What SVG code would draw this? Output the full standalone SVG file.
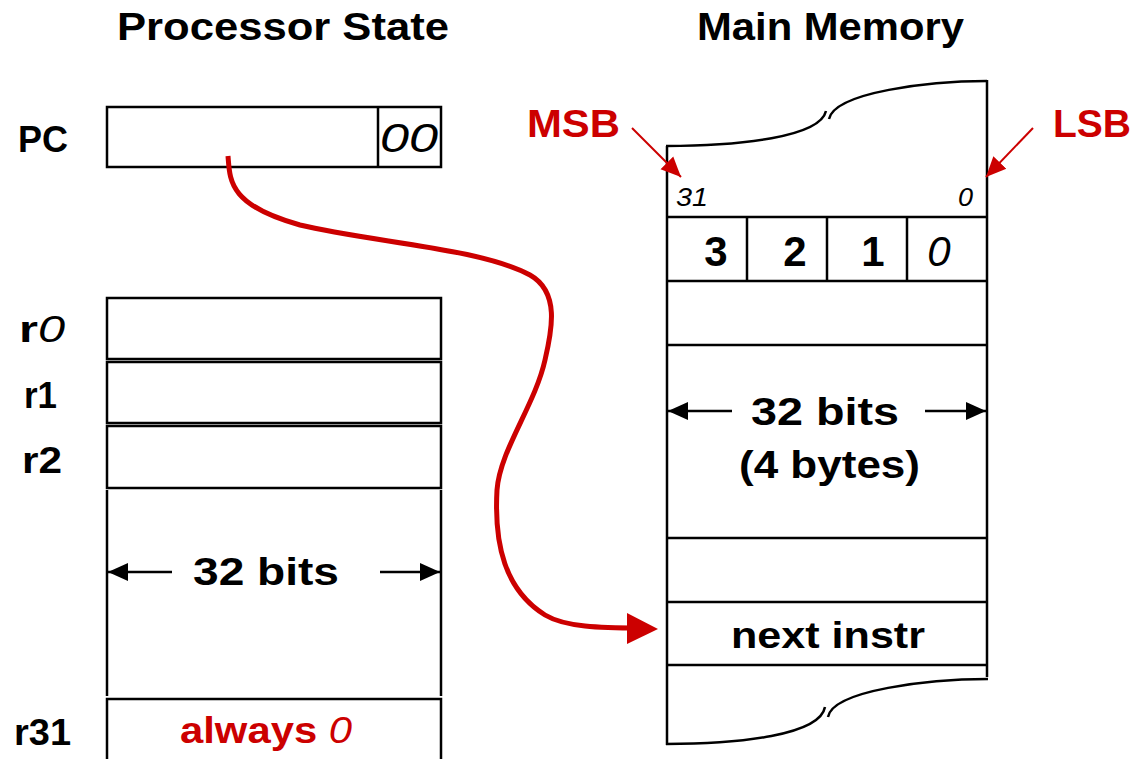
<svg xmlns="http://www.w3.org/2000/svg" width="1134" height="759" viewBox="0 0 1134 759">
<style>
.box{fill:#fff;stroke:#000;stroke-width:2.5}
.ln{fill:none;stroke:#000;stroke-width:2.5}
.t{font-family:"Liberation Sans","DejaVu Sans",sans-serif;font-weight:bold;fill:#000}
.title{font-size:38px}
.lbl{font-size:36px}
.mid{font-size:38px}
.red{fill:#cc0000}
.it{font-style:italic;font-weight:normal}
</style>
<defs>
<marker id="blkA" viewBox="0 0 20 20" refX="20" refY="10" markerWidth="20" markerHeight="20" orient="auto" markerUnits="userSpaceOnUse">
<path d="M0,1 L20,10 L0,19 z" fill="#000"/>
</marker>
<marker id="redA" viewBox="0 0 20 20" refX="20" refY="10" markerWidth="20" markerHeight="20" orient="auto" markerUnits="userSpaceOnUse">
<path d="M0,1 L20,10 L0,19 z" fill="#cc0000"/>
</marker>
</defs>
<rect width="1134" height="759" fill="#fff"/>

<g id="titles">
<text class="t title" x="117" y="40" textLength="332" lengthAdjust="spacingAndGlyphs">Processor State</text>
<text class="t title" x="697" y="40" textLength="267" lengthAdjust="spacingAndGlyphs">Main Memory</text>
</g>

<g id="pc">
<text class="t lbl" x="18" y="152" textLength="50" lengthAdjust="spacingAndGlyphs">PC</text>
<rect class="box" x="107" y="107" width="334" height="60"/>
<line class="ln" x1="378" y1="107" x2="378" y2="167"/>
<text class="t it" x="380" y="152" font-size="40" textLength="58" lengthAdjust="spacingAndGlyphs">00</text>
</g>

<g id="r0">
<text class="t lbl" x="19" y="342" textLength="46" lengthAdjust="spacingAndGlyphs">r<tspan class="it">0</tspan></text>
<rect class="box" x="107" y="298" width="334" height="61"/>
</g>
<g id="r1">
<text class="t lbl" x="24" y="408" textLength="33" lengthAdjust="spacingAndGlyphs">r1</text>
<rect class="box" x="107" y="362" width="334" height="61"/>
</g>
<g id="r2">
<text class="t lbl" x="22" y="473" textLength="40" lengthAdjust="spacingAndGlyphs">r2</text>
<rect class="box" x="107" y="426" width="334" height="62"/>
</g>
<g id="regs-mid">
<line class="ln" x1="107" y1="490" x2="107" y2="696"/>
<line class="ln" x1="441" y1="490" x2="441" y2="696"/>
<line class="ln" x1="172" y1="572" x2="108" y2="572" marker-end="url(#blkA)"/>
<line class="ln" x1="380" y1="572" x2="440" y2="572" marker-end="url(#blkA)"/>
<text class="t mid" x="193" y="585" textLength="146" lengthAdjust="spacingAndGlyphs">32 bits</text>
</g>
<g id="r31">
<text class="t lbl" x="14" y="745" textLength="57" lengthAdjust="spacingAndGlyphs">r31</text>
<rect class="box" x="107" y="699" width="334" height="70"/>
<text class="t red" x="180" y="743" font-size="36" textLength="172" lengthAdjust="spacingAndGlyphs">always <tspan class="it">0</tspan></text>
</g>

<g id="memory">
<path class="ln" d="M666,146 C740,146 820,137 826,111"/>
<path class="ln" d="M829,119 C835,92 930,81 987,81"/>
<line class="ln" x1="667" y1="146" x2="667" y2="745"/>
<line class="ln" x1="987" y1="80" x2="987" y2="677"/>
<path class="ln" d="M666,744 C740,744 820,735 825,707"/>
<path class="ln" d="M828,717 C833,690 930,679 988,679"/>
<text class="t it" x="676" y="206" font-size="26" textLength="32" lengthAdjust="spacingAndGlyphs">31</text>
<text class="t it" x="958" y="206" font-size="26" textLength="15" lengthAdjust="spacingAndGlyphs">0</text>
<line class="ln" x1="667" y1="217" x2="987" y2="217"/>
<line class="ln" x1="667" y1="281" x2="987" y2="281"/>
<line class="ln" x1="747" y1="217" x2="747" y2="281"/>
<line class="ln" x1="827" y1="217" x2="827" y2="281"/>
<line class="ln" x1="907" y1="217" x2="907" y2="281"/>
<text class="t" x="716" y="266" font-size="42" text-anchor="middle">3</text>
<text class="t" x="795" y="266" font-size="42" text-anchor="middle">2</text>
<text class="t" x="873" y="266" font-size="42" text-anchor="middle">1</text>
<text class="t it" x="939" y="266" font-size="42" text-anchor="middle">0</text>
<line class="ln" x1="667" y1="345" x2="987" y2="345"/>
<line class="ln" x1="732" y1="411" x2="668" y2="411" marker-end="url(#blkA)"/>
<line class="ln" x1="925" y1="411" x2="986" y2="411" marker-end="url(#blkA)"/>
<text class="t mid" x="751" y="425" textLength="148" lengthAdjust="spacingAndGlyphs">32 bits</text>
<text class="t mid" x="739" y="478" textLength="181" lengthAdjust="spacingAndGlyphs">(4 bytes)</text>
<line class="ln" x1="667" y1="538" x2="987" y2="538"/>
<line class="ln" x1="667" y1="602" x2="987" y2="602"/>
<line class="ln" x1="667" y1="665" x2="987" y2="665"/>
<text class="t" x="731" y="648" font-size="36" textLength="194" lengthAdjust="spacingAndGlyphs">next instr</text>
</g>

<g id="msb">
<text class="t red" x="527" y="137" font-size="38" textLength="93" lengthAdjust="spacingAndGlyphs">MSB</text>
</g>
<g id="lsb">
<text class="t red" x="1053" y="137" font-size="38" textLength="78" lengthAdjust="spacingAndGlyphs">LSB</text>
</g>

<g id="connectors">
<line x1="632" y1="128" x2="681" y2="177" stroke="#cc0000" stroke-width="2" marker-end="url(#redA)"/>
<line x1="1033" y1="128" x2="986" y2="177" stroke="#cc0000" stroke-width="2" marker-end="url(#redA)"/>
<path d="M228,156 C230,180 228,205 300,225 C370,242 480,248 530,275 C560,292 552,330 545,360 C535,405 500,450 497,490 C494,545 505,590 545,615 C565,627 600,628 640,628" fill="none" stroke="#cc0000" stroke-width="5"/>
<path d="M627,613 L658,629 L627,644 z" fill="#cc0000"/>
</g>
</svg>
